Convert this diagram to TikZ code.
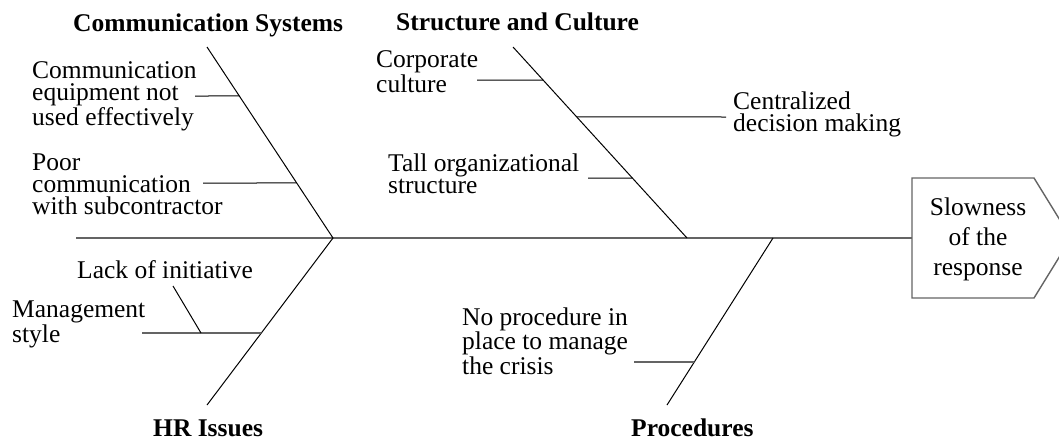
\documentclass[tikz,border=0pt]{standalone}
\usepackage{fontspec}
\setmainfont{Liberation Serif}
\usetikzlibrary{calc}
\definecolor{spinegray}{RGB}{100,100,100}
\begin{document}
\begin{tikzpicture}[x=1pt,y=-1pt,
  lbl/.style={anchor=base west, align=left, inner sep=0pt, font=\fontsize{25.5}{22}\selectfont},
  ttl/.style={anchor=base west, inner sep=0pt, font=\fontsize{25.5}{22}\selectfont\bfseries},
  bone/.style={draw=black, line width=1pt},
  spine/.style={draw=spinegray, line width=1.8pt},
  twig/.style={draw=black, line width=1pt},
  ltwig/.style={draw=spinegray, line width=1.6pt},
  headbox/.style={draw=spinegray, line width=1.4pt}]
\useasboundingbox (0,0) rectangle (1059,442);

% head
\coordinate (hNW) at (912,178);
\coordinate (hNE) at (1034,178);
\coordinate (hTip) at (1071,238);
\coordinate (hSE) at (1034,298);
\coordinate (hSW) at (912,298);
\coordinate (hW) at (912,238);
\draw[headbox] (hNW) -- (hNE) -- (hTip) -- (hSE) -- (hSW) -- cycle;
\node[align=center, inner sep=0pt, font=\fontsize{25.5}{30}\selectfont] (head) at (978,239) {Slowness\\of the\\response};

% spine
\coordinate (spL) at (76,238);
\coordinate (j1) at (333,238);
\coordinate (j2) at (687,238);
\coordinate (j3) at (773,238);
\draw[spine] (spL) -- (hW);

% bones
\coordinate (cA) at (207,47);
\coordinate (sA) at (513,47);
\coordinate (hA) at (207,405);
\coordinate (pA) at (667,405);
\draw[bone] (cA) -- (j1);
\draw[bone] (sA) -- (j2);
\draw[bone] (hA) -- (j1);
\draw[bone] (pA) -- (j3);

% twig points on bones
\coordinate (c1b) at ($(cA)!0.2565!(j1)$);
\coordinate (c2b) at ($(cA)!0.712!(j1)$);
\coordinate (s1b) at ($(sA)!0.173!(j2)$);
\coordinate (s2b) at ($(sA)!0.366!(j2)$);
\coordinate (s3b) at ($(sA)!0.686!(j2)$);
\coordinate (h1b) at ($(j1)!0.569!(hA)$);
\coordinate (p1b) at ($(j3)!0.7425!(pA)$);

\coordinate (c1e) at (195,96);
\coordinate (c2e) at (203,183);
\coordinate (s1e) at (477,80);
\coordinate (s2e) at (726,117);
\coordinate (s3e) at (588,178);
\coordinate (h1e) at (142,333);
\coordinate (p1e) at (634,362);
\coordinate (liA) at (173,286);
\coordinate (liB) at (201,333);

\draw[twig] (c1e) -- (c1b);
\draw[twig] (c2e) -- (c2b);
\draw[twig] (s1e) -- (s1b);
\draw[twig] (s2b) -- (s2e);
\draw[twig] (s3e) -- (s3b);
\draw[ltwig] (h1e) -- (h1b);
\draw[ltwig] (p1e) -- (p1b);
\draw[twig] (liA) -- (liB);

% labels (base anchor = baseline of the last line)
\node[ttl] (tcs) at (73,31) {Communication Systems};
\node[lbl] (tce) at (32,125) {Communication\\equipment not\\used effectively};
\node[lbl] (tpc) at (32,214) {Poor\\communication\\with subcontractor};
\node[ttl] (tsc) at (396,30) {Structure and Culture};
\node[lbl] (tcc) at (376,92) {Corporate\\culture};
\node[lbl] (tto) at (388,193) {Tall organizational\\structure};
\node[lbl] (tcd) at (733,131) {Centralized\\decision making};
\node[lbl] (tli) at (77,278) {Lack of initiative};
\node[lbl] (tms) at (12,342) {Management\\style};
\node[ttl] (thr) at (153,436) {HR Issues};
\node[lbl] (tnp) at (462,374) {No procedure in\\place to manage\\the crisis};
\node[ttl] (tpr) at (631,436) {Procedures};
\end{tikzpicture}
\end{document}
